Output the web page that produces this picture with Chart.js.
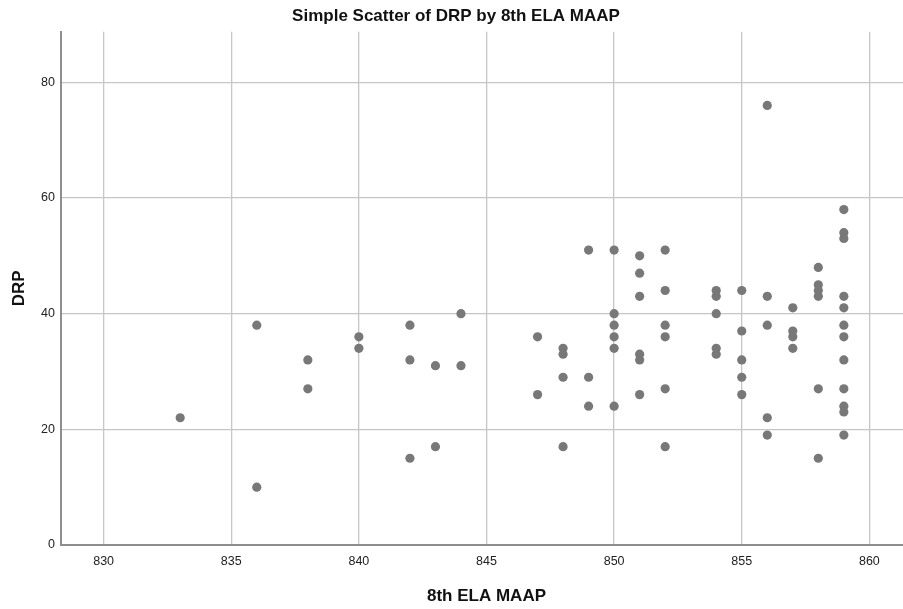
<!DOCTYPE html>
<html>
<head>
<meta charset="utf-8">
<script src="https://cdn.jsdelivr.net/npm/chart.js@4/dist/chart.umd.min.js"></script>
<style>
html, body { margin:0; padding:0; background:#fff; overflow:hidden; }
#wrap { width:912px; height:609px; }
</style>
</head>
<body>
<div id="wrap"><canvas id="c" width="912" height="609"></canvas></div>
<script>
// ---- data ----
const elaScores = [
  833,
  836, 836,
  838, 838,
  840, 840,
  842, 842, 842,
  843, 843,
  844, 844,
  847, 847,
  848, 848, 848, 848,
  849, 849, 849,
  850, 850, 850, 850, 850, 850,
  851, 851, 851, 851, 851, 851,
  852, 852, 852, 852, 852, 852,
  854, 854, 854, 854, 854,
  855, 855, 855, 855, 855,
  856, 856, 856, 856, 856,
  857, 857, 857, 857,
  858, 858, 858, 858, 858, 858,
  859, 859, 859, 859, 859, 859, 859, 859, 859, 859, 859, 859
];
const drpScores = [
  22,
  38, 10,
  32, 27,
  36, 34,
  38, 32, 15,
  31, 17,
  40, 31,
  36, 26,
  34, 33, 29, 17,
  51, 29, 24,
  51, 40, 38, 36, 34, 24,
  50, 47, 43, 33, 32, 26,
  51, 44, 38, 36, 27, 17,
  44, 43, 40, 34, 33,
  44, 37, 32, 29, 26,
  76, 43, 38, 22, 19,
  41, 37, 36, 34,
  48, 45, 44, 43, 27, 15,
  58, 54, 53, 43, 41, 38, 36, 32, 27, 24, 23, 19
];
const xTickValues = [830, 835, 840, 845, 850, 855, 860];
const yTickValues = [0, 20, 40, 60, 80];
const chartTitle = 'Simple Scatter of DRP by 8th ELA MAAP';
const xTitle = '8th ELA MAAP';
const yTitle = 'DRP';

const points = elaScores.map((x, i) => ({ x: x, y: drpScores[i] }));

const tickFont = { family: '"Liberation Sans", Arial, sans-serif', size: 12.5 };
const titleFont = { family: '"Liberation Sans", Arial, sans-serif', size: 17, weight: 'bold', lineHeight: 1.2 };
const gridColor = '#c6c6c6';
const axisColor = '#8e8e8e';

function noPad(s) {
  s.paddingLeft = 0; s.paddingRight = 0; s.paddingTop = 0; s.paddingBottom = 0;
}

new Chart(document.getElementById('c'), {
  type: 'scatter',
  data: {
    datasets: [{
      data: points,
      backgroundColor: '#787878',
      borderWidth: 0,
      pointRadius: 4.6,
      pointHoverRadius: 4.6
    }]
  },
  options: {
    responsive: false,
    animation: false,
    devicePixelRatio: 1,
    layout: { padding: 0, autoPadding: false },
    plugins: {
      legend: { display: false },
      tooltip: { enabled: false },
      title: {
        display: true,
        text: chartTitle,
        color: '#111',
        font: titleFont,
        padding: { top: 6.5, bottom: 4.8 }
      }
    },
    scales: {
      x: {
        type: 'linear',
        min: 828.33,
        max: 861.67,
        afterBuildTicks: s => { s.ticks = xTickValues.map(v => ({ value: v })); },
        afterFit: s => { s.height = 64; noPad(s); },
        grid: { color: gridColor, lineWidth: 1.3, drawTicks: false },
        border: { color: axisColor, width: 2 },
        ticks: { color: '#222', font: tickFont, padding: 9, maxRotation: 0 },
        title: { display: true, text: xTitle, color: '#111', font: titleFont, padding: { top: 0, bottom: 2 } }
      },
      y: {
        type: 'linear',
        min: 0,
        max: 88.75,
        afterBuildTicks: s => { s.ticks = yTickValues.map(v => ({ value: v })); },
        afterFit: s => { s.width = 61; noPad(s); },
        grid: { color: gridColor, lineWidth: 1.3, drawTicks: false },
        border: { color: axisColor, width: 2 },
        ticks: { color: '#222', font: tickFont, padding: 6 },
        title: { display: true, text: yTitle, color: '#111', font: titleFont, padding: { top: 9.5, bottom: 0 } }
      }
    }
  }
});
</script>
</body>
</html>
